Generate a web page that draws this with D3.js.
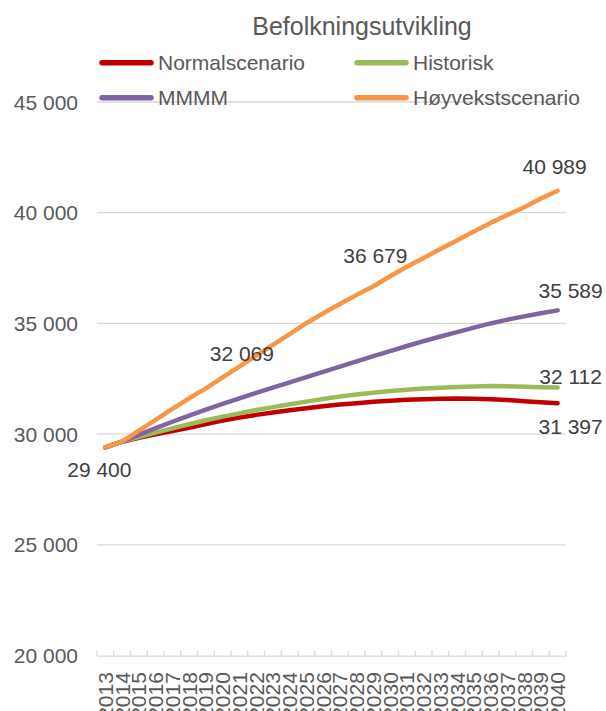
<!DOCTYPE html>
<html>
<head>
<meta charset="utf-8">
<script src="https://cdn.jsdelivr.net/npm/d3@7"></script>
<style>
  html, body { margin: 0; padding: 0; background: #fff; }
  svg { display: block; font-family: "Liberation Sans", Arial, sans-serif; }
</style>
</head>
<body>
<svg id="chart" width="606" height="711"></svg>
<script>
// ---------------- DATA ----------------
const title = "Befolkningsutvikling";
const years = [2013, 2014, 2015, 2016, 2017, 2018, 2019, 2020, 2021, 2022, 2023, 2024, 2025, 2026,
               2027, 2028, 2029, 2030, 2031, 2032, 2033, 2034, 2035, 2036, 2037, 2038, 2039, 2040];
const seriesNames = ["Normalscenario", "Historisk", "MMMM", "Høyvekstscenario"];
const normalscenario = [29400, 29660, 29830, 29990, 30140, 30290, 30460, 30620, 30750, 30870, 30980, 31080, 31170, 31260,
                        31340, 31400, 31460, 31510, 31550, 31580, 31600, 31610, 31600, 31580, 31540, 31490, 31440, 31397];
const historisk      = [29400, 29660, 29870, 30070, 30260, 30450, 30630, 30790, 30940, 31090, 31220, 31350, 31470, 31590,
                        31700, 31790, 31870, 31950, 32010, 32060, 32100, 32130, 32150, 32170, 32160, 32140, 32120, 32112];
const mmmm           = [29400, 29660, 29970, 30270, 30560, 30840, 31110, 31370, 31620, 31860, 32100, 32340, 32580, 32810,
                        33050, 33290, 33520, 33750, 33980, 34200, 34410, 34610, 34810, 35000, 35170, 35320, 35460, 35589];
const hoyvekst       = [29400, 29660, 30160, 30650, 31140, 31620, 32069, 32560, 33050, 33540, 34030, 34520, 35010, 35460,
                        35880, 36290, 36679, 37130, 37560, 37960, 38360, 38760, 39150, 39540, 39900, 40250, 40640, 40989];
const yTicks = [20000, 25000, 30000, 35000, 40000, 45000];
// data labels: which series and year carry a value label
const labelSeries = [3, 3, 3, 3, 2, 1, 0];
const labelYears  = [2013, 2019, 2029, 2040, 2040, 2040, 2040];

// ---------------- STYLE / LAYOUT ----------------
const colors = ["#C00000", "#9BBB59", "#8064A2", "#F79646"];
const values = [normalscenario, historisk, mmmm, hoyvekst];
const labelOffsets = [[-6, 22], [36, -34.5], [2, -31], [-3, -24], [13, -20], [13, -11], [13, 23.5]];

const svg = d3.select("#chart");
const plot = { left: 97, right: 566, top: 102, bottom: 655.6 };

const x = d3.scaleBand().domain(years).range([plot.left, plot.right]).padding(0);
const xc = yr => x(yr) + x.bandwidth() / 2;
const y = d3.scaleLinear().domain([20000, 45000]).range([plot.bottom, plot.top]);

const fmt = d3.formatLocale({ decimal: ",", thousands: " ", grouping: [3], currency: ["", ""] }).format(",d");

// gridlines
svg.append("g").selectAll("line").data(yTicks.filter(t => t !== 20000)).join("line")
  .attr("x1", plot.left).attr("x2", plot.right)
  .attr("y1", d => y(d)).attr("y2", d => y(d))
  .attr("stroke", "#D9D9D9").attr("stroke-width", 1.3);

// y axis labels
svg.append("g").selectAll("text").data(yTicks).join("text")
  .attr("x", 78).attr("y", d => y(d) + 7.5)
  .attr("text-anchor", "end")
  .attr("font-size", 21).attr("fill", "#595959")
  .text(d => fmt(d));

// x axis
const xAxis = svg.append("g").attr("transform", `translate(0,${plot.bottom})`)
  .call(d3.axisBottom(x).tickSize(0).tickFormat(d => d));
xAxis.select(".domain").attr("stroke", "#D9D9D9").attr("stroke-width", 1.3);
xAxis.selectAll(".tick text")
  .attr("font-size", 21).attr("fill", "#595959")
  .attr("font-family", "Liberation Sans, Arial, sans-serif")
  .attr("text-anchor", "end")
  .attr("transform", "translate(0,16.5) rotate(-90)")
  .attr("x", 0).attr("y", 0).attr("dy", "0.36em");
// category boundary tick marks
const boundaries = years.map(yr => x(yr)).concat([plot.right]);
svg.append("g").selectAll("line").data(boundaries).join("line")
  .attr("x1", d => d).attr("x2", d => d)
  .attr("y1", plot.bottom - 5).attr("y2", plot.bottom + 0.5)
  .attr("stroke", "#D9D9D9").attr("stroke-width", 1.3);

// lines
const line = d3.line().x((d, i) => xc(years[i])).y(d => y(d)).curve(d3.curveLinear);
svg.append("g").selectAll("path").data(values).join("path")
  .attr("d", d => line(d))
  .attr("fill", "none")
  .attr("stroke", (d, i) => colors[i])
  .attr("stroke-width", 4.5)
  .attr("stroke-linecap", "round")
  .attr("stroke-linejoin", "round");

// data labels
svg.append("g").selectAll("text").data(labelSeries.map((s, k) => ({ s, yr: labelYears[k], off: labelOffsets[k] })))
  .join("text")
  .attr("x", d => xc(d.yr) + d.off[0])
  .attr("y", d => y(values[d.s][years.indexOf(d.yr)]) + d.off[1] + 7.5)
  .attr("text-anchor", "middle")
  .attr("font-size", 21).attr("fill", "#404040")
  .text(d => fmt(values[d.s][years.indexOf(d.yr)]));

// title
svg.append("text").attr("x", 362).attr("y", 35)
  .attr("text-anchor", "middle").attr("font-size", 25).attr("fill", "#595959")
  .text(title);

// legend (2 x 2)
const legendPos = [[102, 62.7], [357, 62.7], [102, 97.7], [357, 97.7]];
const leg = svg.append("g").selectAll("g").data(seriesNames).join("g")
  .attr("transform", (d, i) => `translate(${legendPos[i][0]},${legendPos[i][1]})`);
leg.append("line").attr("x1", 0).attr("x2", 49).attr("y1", 0).attr("y2", 0)
  .attr("stroke", (d, i) => colors[i]).attr("stroke-width", 5.5).attr("stroke-linecap", "round");
leg.append("text").attr("x", 56).attr("y", 7.5)
  .attr("font-size", 21).attr("fill", "#595959")
  .text(d => d);
</script>
</body>
</html>
